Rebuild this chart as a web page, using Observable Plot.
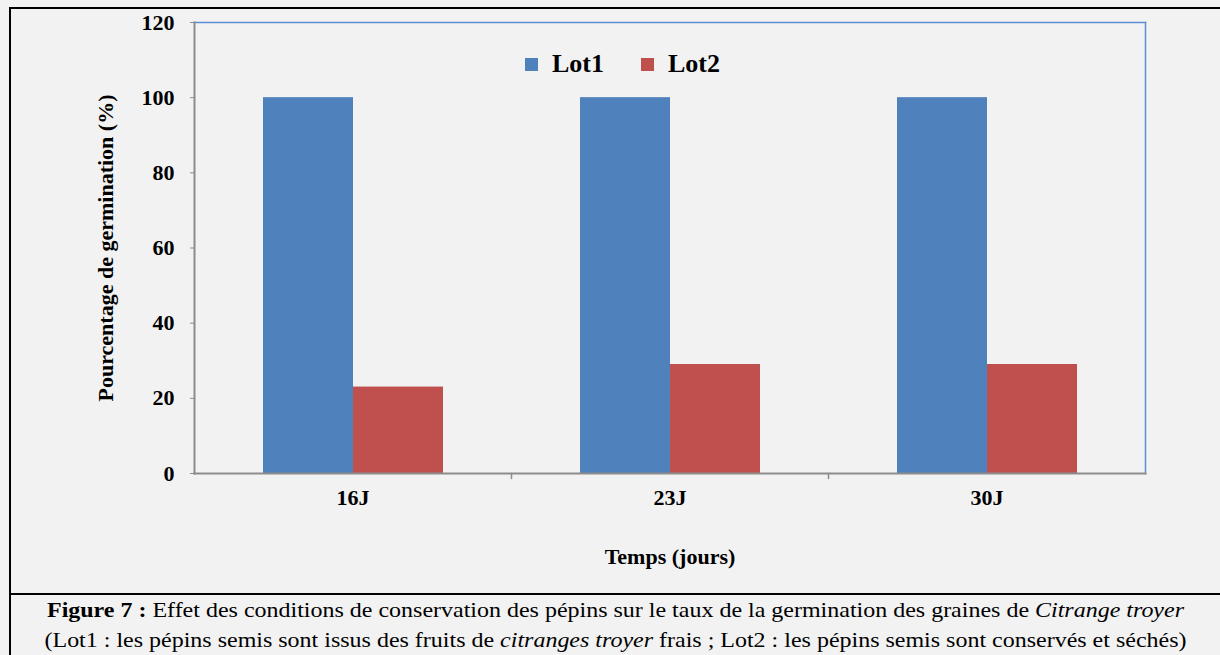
<!DOCTYPE html>
<html>
<head>
<meta charset="utf-8">
<script src="https://cdn.jsdelivr.net/npm/d3@7"></script>
<script src="https://cdn.jsdelivr.net/npm/@observablehq/plot@0.6"></script>
<style>
  html, body { margin: 0; padding: 0; background: #f2f2f2; }
  #page { position: relative; width: 1220px; height: 655px; overflow: hidden; background: #f2f2f2; font-family: "Liberation Serif", "Times New Roman", serif; }
  #chart { position: absolute; left: 0; top: 0; }
  .bline { position: absolute; background: #000; }
  #legend { position: absolute; left: 525px; top: 49px; display: flex; align-items: center; font-size: 26px; font-weight: bold; color: #000; }
  #legend .item { display: flex; align-items: center; margin-right: 37px; }
  #legend .sw { width: 13px; height: 13px; margin-right: 14px; }
  #caption { position: absolute; left: 11px; top: 595px; width: 1209px; text-align: center; font-size: 22px; line-height: 30px; color: #000; white-space: nowrap; transform: scaleX(1.09); transform-origin: 50% 0; }
</style>
</head>
<body>
<div id="page">
  <div id="chart"></div>
  <div id="legend"></div>
  <div class="bline" style="left:9px; top:7px; width:1211px; height:2px;"></div>
  <div class="bline" style="left:9px; top:7px; width:2px; height:648px;"></div>
  <div class="bline" style="left:9px; top:593px; width:1211px; height:2px;"></div>
  <div id="caption"></div>
</div>
<script>
// ---- data ----
const days = ["16J", "23J", "30J"];
const lots = ["Lot1", "Lot2"];
const lot1Values = [100, 100, 100];
const lot2Values = [23, 29, 29];
const yTicks = [0, 20, 40, 60, 80, 100, 120];
const colors = ["#4f81bd", "#c0504d"];
const yLabel = "Pourcentage de germination (%)";
const xLabel = "Temps (jours)";

const data = days.flatMap((d, i) => [
  {day: d, lot: lots[0], value: lot1Values[i]},
  {day: d, lot: lots[1], value: lot2Values[i]}
]);

const boundaryTick = {draw(context, l) { context.moveTo(0, 0); context.lineTo(0, -l); }};

const chart = Plot.plot({
  width: 1220,
  height: 593,
  marginTop: 22,
  marginRight: 75,
  marginBottom: 120,
  marginLeft: 194,
  style: {background: "transparent", fontFamily: "'Liberation Serif', 'Times New Roman', serif", color: "#000"},
  y: {domain: [0, 120]},
  fx: {domain: days, padding: 0},
  x: {domain: lots, paddingInner: 0, paddingOuter: 0.75, axis: null},
  color: {domain: lots, range: colors},
  marks: [
    Plot.barY(data, {fx: "day", x: "lot", y: "value", fill: "lot"}),
    Plot.frame({anchor: "top", stroke: "#5b8fd4", strokeWidth: 1.5, facet: "super"}),
    Plot.frame({anchor: "right", stroke: "#5b8fd4", strokeWidth: 1.5, facet: "super"}),
    Plot.frame({anchor: "left", stroke: "#8c8c8c", strokeWidth: 2, facet: "super"}),
    Plot.frame({anchor: "bottom", stroke: "#8c8c8c", strokeWidth: 2, facet: "super"}),
    Plot.vector(days.slice(0, -1), {fx: d => d, frameAnchor: "bottom-right", length: 5, rotate: 180, anchor: "start", shape: boundaryTick, stroke: "#8c8c8c", strokeWidth: 1.5}),
    Plot.axisY({ticks: yTicks, tickSize: 4, tickPadding: 16, stroke: "#8c8c8c", fill: "#000", fontSize: 22, fontWeight: "bold",
      label: yLabel, labelAnchor: "center", labelOffset: 97, labelArrow: "none"}),
    Plot.axisFx({anchor: "bottom", tickSize: 0, tickPadding: 16, fill: "#000", fontSize: 22, fontWeight: "bold",
      label: xLabel, labelAnchor: "center", labelOffset: 90, labelArrow: "none"})
  ]
});
document.getElementById("chart").appendChild(chart);

// legend
const legend = document.getElementById("legend");
lots.forEach((l, i) => {
  const item = document.createElement("div");
  item.className = "item";
  const sw = document.createElement("span");
  sw.className = "sw";
  sw.style.background = colors[i];
  const t = document.createElement("span");
  t.textContent = l;
  item.appendChild(sw); item.appendChild(t);
  legend.appendChild(item);
});

// caption
document.getElementById("caption").innerHTML =
  "<b>Figure 7 :</b> Effet des conditions de conservation des pépins sur le taux de la germination des graines de <i>Citrange troyer</i><br>" +
  "(Lot1 : les pépins semis sont issus des fruits de <i>citranges troyer</i> frais ; Lot2 : les pépins semis sont conservés et séchés)";
</script>
</body>
</html>
